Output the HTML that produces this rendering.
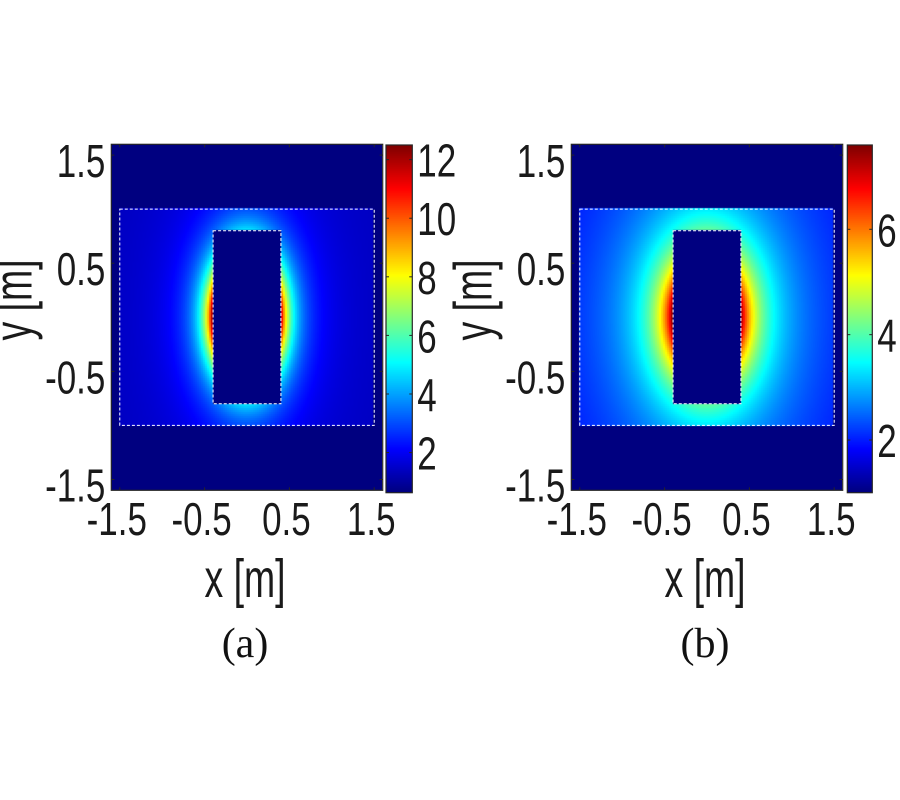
<!DOCTYPE html>
<html><head><meta charset="utf-8">
<style>
html,body{margin:0;padding:0;background:#fff;}
#root{position:relative;width:900px;height:800px;overflow:hidden;background:#fff;}
canvas{position:absolute;}
svg{position:absolute;left:0;top:0;}
.tk{font-family:"Liberation Sans",sans-serif;font-size:46px;fill:#1a1a1a;}
.lb{font-family:"Liberation Sans",sans-serif;font-size:48px;fill:#1a1a1a;}
.cap{font-family:"Liberation Serif",serif;font-size:42px;fill:#111;}
</style></head>
<body>
<div id="root">
<canvas id="hmA"></canvas>
<canvas id="hmB"></canvas>
<canvas id="cbA"></canvas>
<canvas id="cbB"></canvas>
<svg id="ov" width="900" height="800"></svg>
</div>
<script>
// ---- data ----
const axisTicks = [-1.5, -0.5, 0.5, 1.5];
const axisTickLabels = ["-1.5", "-0.5", "0.5", "1.5"];
const axisRange = [-1.6, 1.6];
const outerRegion = [-1.5, 1.5, -1.0, 1.0];   // xmin,xmax,ymin,ymax
const innerRegion = [-0.4, 0.4, -0.8, 0.8];
const cbRangeA = [0.63, 12.5];
const cbRangeB = [1.0, 7.6];
const cbTicksA = [2, 4, 6, 8, 10, 12];
const cbTicksB = [2, 4, 6];
// field model params per panel: [base, amplitude, exponent, yStretch, radius]
const fieldA = [1.3, 11.2, 3.2, 1.4, 0.4];
const fieldB = [1.5, 6.1, 1.63, 1.2, 0.4];

const NS = "http://www.w3.org/2000/svg";
const ov = document.getElementById('ov');
function mk(tag, attrs, parent){const e=document.createElementNS(NS,tag);for(const k in attrs)e.setAttribute(k,attrs[k]);(parent||ov).appendChild(e);return e;}
function jet(t){t=Math.max(0,Math.min(1,t));const c=v=>Math.round(255*Math.max(0,Math.min(1,v)));
 return [c(1.5-Math.abs(4*t-3)),c(1.5-Math.abs(4*t-2)),c(1.5-Math.abs(4*t-1))];}

const panels = [
 {id:'a', hm:'hmA', cb:'cbA', L:111.3, R:382.7, T:144.3, B:490.3, cbL:386, cbR:412.3, cbT:145, cbB:492.7, range:cbRangeA, ticks:cbTicksA, field:fieldA, cap:'(a)'},
 {id:'b', hm:'hmB', cb:'cbB', L:571.3, R:842.7, T:144.3, B:490.3, cbL:847.3, cbR:872.3, cbT:145, cbB:492.7, range:cbRangeB, ticks:cbTicksB, field:fieldB, cap:'(b)'}
];

panels.forEach(p=>{
 const xs = v => p.L + (v-axisRange[0])/(axisRange[1]-axisRange[0])*(p.R-p.L);
 const ys = v => p.B - (v-axisRange[0])/(axisRange[1]-axisRange[0])*(p.B-p.T);
 const [base,amp,ex,k,r0] = p.field;
 const val = (x,y)=>{
   if(x<outerRegion[0]||x>outerRegion[1]||y<outerRegion[2]||y>outerRegion[3]) return p.range[0];
   if(x>=innerRegion[0]&&x<=innerRegion[1]&&y>=innerRegion[2]&&y<=innerRegion[3]) return p.range[0];
   const s=Math.sqrt(x*x+(y/k)*(y/k));
   return base+amp*Math.pow(r0/Math.max(s,r0),ex);
 };
 const cv=document.getElementById(p.hm);
 const W=Math.round(p.R-p.L), H=Math.round(p.B-p.T);
 cv.width=W; cv.height=H; cv.style.left=p.L+'px'; cv.style.top=p.T+'px';
 const ctx=cv.getContext('2d');
 const n=2;
 for(let py=0;py<H;py+=n){for(let px=0;px<W;px+=n){
   const x=axisRange[0]+(px+n/2)/W*(axisRange[1]-axisRange[0]);
   const y=axisRange[1]-(py+n/2)/H*(axisRange[1]-axisRange[0]);
   const t=(val(x,y)-p.range[0])/(p.range[1]-p.range[0]);
   const c=jet(t); ctx.fillStyle='rgb('+c+')'; ctx.fillRect(px,py,n,n);
 }}
 const cb=document.getElementById(p.cb);
 const cw=Math.round(p.cbR-p.cbL), ch=Math.round(p.cbB-p.cbT);
 cb.width=cw; cb.height=ch; cb.style.left=p.cbL+'px'; cb.style.top=p.cbT+'px';
 const cc=cb.getContext('2d');
 for(let i=0;i<ch;i++){const c=jet(1-i/(ch-1));cc.fillStyle='rgb('+c+')';cc.fillRect(0,i,cw,1);}
 const g=mk('g',{});
 const r1=mk('rect',{x:xs(outerRegion[0]),y:ys(outerRegion[3]),width:xs(outerRegion[1])-xs(outerRegion[0]),height:ys(outerRegion[2])-ys(outerRegion[3]),fill:'none',stroke:'#fff','stroke-width':1,'stroke-dasharray':'3,2'},g);
 
 
 const r2=mk('rect',{x:xs(innerRegion[0]),y:ys(innerRegion[3]),width:xs(innerRegion[1])-xs(innerRegion[0]),height:ys(innerRegion[2])-ys(innerRegion[3]),fill:'none',stroke:'#fff','stroke-width':1,'stroke-dasharray':'3,2'},g);
 
 
 const fr=mk('rect',{x:p.L,y:p.T,width:p.R-p.L,height:p.B-p.T,fill:'none',stroke:'#262626','stroke-width':1.2},g);
 
 
 axisTicks.forEach((v,i)=>{
   const X=xs(v), Y=ys(v);
   mk('line',{x1:X,x2:X,y1:p.B,y2:p.B-3,stroke:'#262626'},g);
   mk('line',{x1:X,x2:X,y1:p.T,y2:p.T+3,stroke:'#262626'},g);
   mk('line',{x1:p.L,x2:p.L+3,y1:Y,y2:Y,stroke:'#262626'},g);
   mk('line',{x1:p.R,x2:p.R-3,y1:Y,y2:Y,stroke:'#262626'},g);
   const tx=mk('text',{class:'tk','text-anchor':'middle',transform:'translate('+(X-3)+',535) scale(0.76,1)'},g);
   tx.textContent=axisTickLabels[i];
   
   
   const ty=mk('text',{class:'tk','text-anchor':'end',transform:'translate('+(p.L-6)+','+(Y+22)+') scale(0.76,1)'},g);
   ty.textContent=axisTickLabels[i];
   
   
 });
 const cf=mk('rect',{x:p.cbL,y:p.cbT,width:p.cbR-p.cbL,height:p.cbB-p.cbT,fill:'none',stroke:'#262626','stroke-width':1.2},g);
 
 
 const cy=v=>p.cbB-(v-p.range[0])/(p.range[1]-p.range[0])*(p.cbB-p.cbT);
 p.ticks.forEach(v=>{
   const Y=cy(v);
   mk('line',{x1:p.cbL,x2:p.cbL+3,y1:Y,y2:Y,stroke:'#262626'},g);
   mk('line',{x1:p.cbR,x2:p.cbR-3,y1:Y,y2:Y,stroke:'#262626'},g);
   const t=mk('text',{class:'tk','text-anchor':'start',transform:'translate('+(p.cbR+5)+','+(Y+17)+') scale(0.76,1)'},g);
   t.textContent=String(v);
   
   
 });
 const cx=(p.L+p.R)/2;
 const xl=mk('text',{class:'lb','text-anchor':'middle',transform:'translate('+(cx-2)+',597) scale(0.78,1.12)'},g);
 xl.textContent='x [m]';
 
 
 const yl=mk('text',{class:'lb','text-anchor':'middle',transform:'translate('+(p.L-80)+',300) rotate(-90) scale(0.78,1.12)'},g);
 yl.textContent='y [m]';
 
 
 const cp=mk('text',{class:'cap','text-anchor':'middle',x:cx-2,y:657},g);
 cp.textContent=p.cap;
 
 
});
</script>
</body></html>
